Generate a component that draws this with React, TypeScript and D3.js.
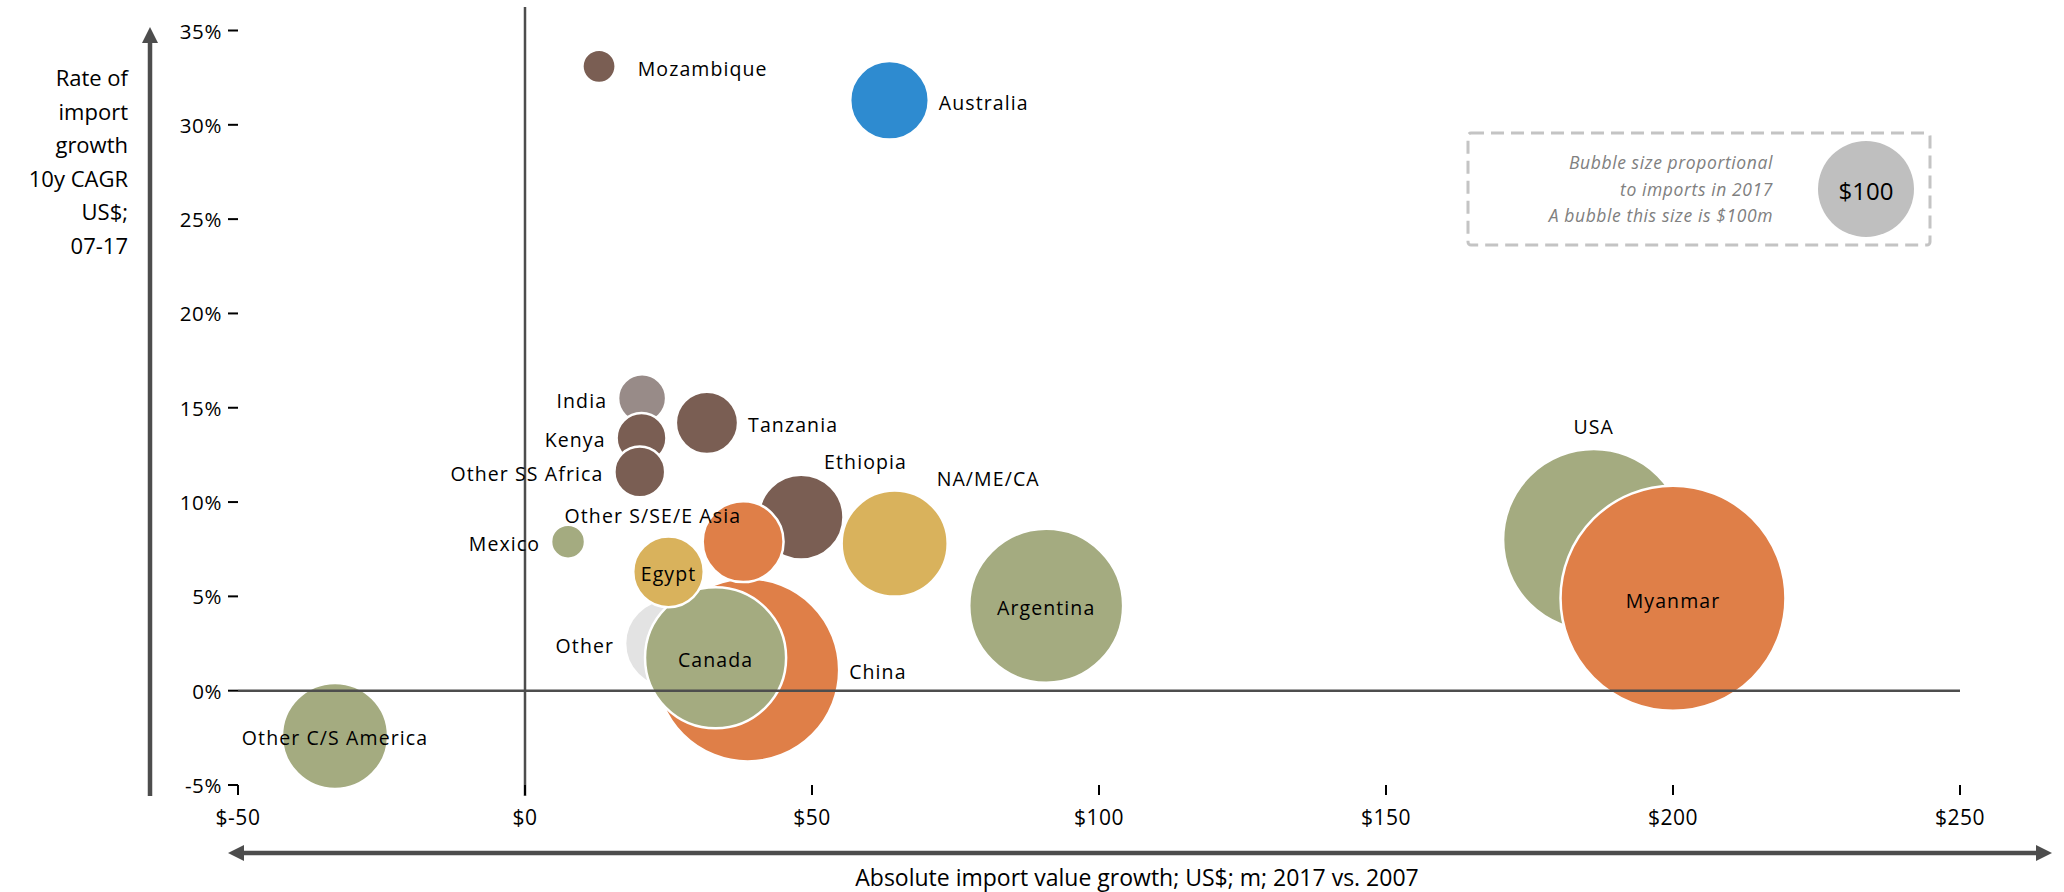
import React from 'react';
import * as d3 from 'd3';

// ---------- data ----------
const names = [
  'Other C/S America', 'Mozambique', 'Australia', 'India', 'Kenya', 'Other SS Africa',
  'Tanzania', 'Ethiopia', 'NA/ME/CA', 'Argentina', 'USA', 'Myanmar', 'Other', 'China',
  'Canada', 'Other S/SE/E Asia', 'Egypt', 'Mexico',
];
// absolute import value growth, US$ m, 2017 vs 2007
const absGrowth = [-33.1, 12.9, 63.5, 20.4, 20.3, 20.0, 31.7, 48.1, 64.4, 90.8, 186.2, 200.0, 25.1, 38.8, 33.2, 38.0, 25.0, 7.5];
// 10y CAGR, %
const cagr = [-2.4, 33.1, 31.3, 15.5, 13.4, 11.6, 14.2, 9.2, 7.8, 4.5, 8.0, 4.9, 2.5, 1.1, 1.75, 7.9, 6.3, 7.9];
// imports in 2017, US$ m
const imports2017 = [122, 12, 67, 25, 27, 28, 42, 78, 122, 257, 357, 549, 84, 363, 216, 71, 54, 12.5];
const groups = [
  'green', 'brown', 'blue', 'india', 'brown', 'brown', 'brown', 'brown', 'yellow', 'green',
  'green', 'orange', 'other', 'orange', 'green', 'orange', 'yellow', 'green',
];

const xTickValues = [-50, 0, 50, 100, 150, 200, 250];
const yTickValues = [-5, 0, 5, 10, 15, 20, 25, 30, 35];
const yTitleLines = ['Rate of', 'import', 'growth', '10y CAGR', 'US$;', '07-17'];
const xTitle = 'Absolute import value growth; US$; m; 2017 vs. 2007';
const legendLines = ['Bubble size proportional', 'to imports in 2017', 'A bubble this size is $100m'];
const legendValue = 100;

// ---------- layout / style ----------
const labelPlacement: { kind: string; dx?: number; dy?: number }[] = [
  { kind: 'center' }, { kind: 'right', dx: 22 }, { kind: 'right' }, { kind: 'left' }, { kind: 'left' },
  { kind: 'left' }, { kind: 'right' }, { kind: 'offset', dx: 23, dy: -56 }, { kind: 'offset', dx: 42, dy: -65 },
  { kind: 'center' }, { kind: 'above' }, { kind: 'center' }, { kind: 'left' }, { kind: 'right' },
  { kind: 'center' }, { kind: 'offsetEnd', dx: -2, dy: -26 }, { kind: 'center' }, { kind: 'left' },
];

const palette = d3.scaleOrdinal<string, string>()
  .domain(['brown', 'india', 'blue', 'orange', 'yellow', 'green', 'other'])
  .range(['#7a5e53', '#988b88', '#2e8bd0', '#df7f48', '#d9b25c', '#a4ab80', '#e3e3e3']);

const FONT = "'Open Sans', 'DejaVu Sans', sans-serif";
const W = 2064;
const H = 892;

export default function App() {
  const x = d3.scaleLinear().domain([-50, 250]).range([238, 1960]);
  const y = d3.scaleLinear().domain([-5, 35]).range([785, 30.5]);
  const r = d3.scaleSqrt().domain([0, 100]).range([0, 48]);

  const bubbles = names.map((n, i) => ({
    name: n,
    cx: x(absGrowth[i]),
    cy: y(cagr[i]),
    r: r(imports2017[i]),
    fill: palette(groups[i]),
    place: labelPlacement[i],
  }));

  const labelPos = (b: any) => {
    const p = b.place;
    switch (p.kind) {
      case 'right':
        return { x: b.cx + b.r + (p.dx ?? 10), y: b.cy + 2, anchor: 'start' };
      case 'left':
        return { x: b.cx - b.r - 11, y: b.cy + 2, anchor: 'end' };
      case 'above':
        return { x: b.cx, y: b.cy - b.r - 23, anchor: 'middle' };
      case 'offset':
        return { x: b.cx + p.dx, y: b.cy + p.dy, anchor: 'start' };
      case 'offsetEnd':
        return { x: b.cx + p.dx, y: b.cy + p.dy, anchor: 'end' };
      default:
        return { x: b.cx, y: b.cy + 2, anchor: 'middle' };
    }
  };

  const axisColor = '#4d4d4d';
  const yAxisX = x(-50);
  const yBottom = y(-5);

  return (
    <svg width={W} height={H} style={{ position: 'absolute', left: 0, top: 0, background: '#fff' }}
      fontFamily={FONT}>
      {/* bubbles */}
      {bubbles.map((b) => (
        <circle key={b.name} cx={b.cx} cy={b.cy} r={b.r} fill={b.fill} stroke="#fff" strokeWidth={2.5} />
      ))}

      {/* reference lines */}
      <line x1={x(0)} x2={x(0)} y1={7} y2={yBottom + 11} stroke={axisColor} strokeWidth={2.5} />
      <line x1={yAxisX} x2={x(250)} y1={y(0)} y2={y(0)} stroke={axisColor} strokeWidth={2.5} />

      {/* y ticks */}
      {yTickValues.map((t) => (
        <g key={'yt' + t}>
          <line x1={yAxisX - 10} x2={yAxisX} y1={y(t)} y2={y(t)} stroke="#000" strokeWidth={2} />
          <text x={yAxisX - 16} y={y(t)} dominantBaseline="central" textAnchor="end" fontSize={20.5}
            letterSpacing={0.6} fill="#000">{`${t}%`}</text>
        </g>
      ))}

      {/* x ticks */}
      {xTickValues.map((t) => (
        <g key={'xt' + t}>
          <line x1={x(t)} x2={x(t)} y1={yBottom} y2={yBottom + 10} stroke="#000" strokeWidth={2} />
          <text x={x(t)} y={817} dominantBaseline="central" textAnchor="middle" fontSize={21}
            letterSpacing={0.5} fill="#000">{`$${t}`}</text>
        </g>
      ))}

      {/* y arrow */}
      <line x1={150} x2={150} y1={40} y2={796} stroke={axisColor} strokeWidth={4.5} />
      <path d={`M150,27 L158,43 L142,43 Z`} fill={axisColor} />
      {yTitleLines.map((l, i) => (
        <text key={l} x={128} y={86 + i * 33.5} textAnchor="end" fontSize={22} fill="#000">{l}</text>
      ))}

      {/* x arrow */}
      <line x1={242} x2={2038} y1={853} y2={853} stroke={axisColor} strokeWidth={4.5} />
      <path d={`M228,853 L244,845 L244,861 Z`} fill={axisColor} />
      <path d={`M2052,853 L2036,845 L2036,861 Z`} fill={axisColor} />
      <text x={1137} y={877} dominantBaseline="central" textAnchor="middle" fontSize={23} fill="#000">{xTitle}</text>

      {/* legend */}
      <rect x={1468} y={133} width={462} height={112} rx={3} fill="none" stroke="#c4c4c4" strokeWidth={3}
        strokeDasharray="13 7" />
      {legendLines.map((l, i) => (
        <text key={l} x={1773} y={162 + i * 26.5} dominantBaseline="central" textAnchor="end" fontSize={17.5}
          fontStyle="italic" letterSpacing={0.6} fill="#808080">{l}</text>
      ))}
      <circle cx={1866} cy={189} r={r(legendValue)} fill="#bfbfbf" />
      <text x={1866} y={190} dominantBaseline="central" textAnchor="middle" fontSize={24} fill="#000">{`$${legendValue}`}</text>

      {/* bubble labels */}
      {bubbles.map((b) => {
        const p = labelPos(b);
        return (
          <text key={'l' + b.name} x={p.x} y={p.y} textAnchor={p.anchor} dominantBaseline="central"
            fontSize={19.5} letterSpacing={1.1} fill="#000">{b.name}</text>
        );
      })}
    </svg>
  );
}
